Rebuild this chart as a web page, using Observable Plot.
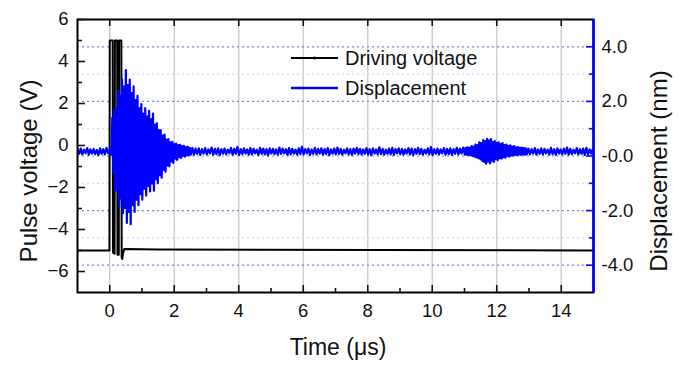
<!DOCTYPE html>
<html>
<head>
<meta charset="utf-8">
<script src="https://cdn.jsdelivr.net/npm/d3@7"></script>
<script src="https://cdn.jsdelivr.net/npm/@observablehq/plot@0.6"></script>
<style>
  html, body { margin: 0; padding: 0; background: #fff; }
  #chart svg { display: block; font-family: Arial, "Liberation Sans", sans-serif; }
</style>
</head>
<body>
<div id="chart"></div>
<script>
// ---- Axes -----------------------------------------------------------------
const timeDomain = [-1, 15];            // µs
const voltDomain = [-7, 6];             // V (left axis)
const nmDomain = [-5, 5];               // nm (right axis)
const xMajorTicks = [0, 2, 4, 6, 8, 10, 12, 14];
const xMinorTicks = [1, 3, 5, 7, 9, 11, 13];
const voltMajorTicks = [-6, -4, -2, 0, 2, 4, 6];
const voltMinorTicks = [-5, -3, -1, 1, 3, 5];
const nmMajorTicks = [-4, -2, 0, 2, 4];
const nmMajorLabels = ["-4.0", "-2.0", "-0.0", "2.0", "4.0"];
const nmMinorTicks = [-3, -1, 1, 3];

// ---- Driving voltage: pulse burst on a -5 V baseline ----------------------
const driveTime = [-1, -0.01, 0.0, 0.09, 0.10, 0.15, 0.16, 0.23, 0.24, 0.28, 0.29, 0.36, 0.37, 0.39, 0.41, 0.45, 1.5, 15];
const driveVolt = [-5.0, -5.0, 5.0, 5.0, -5.1, -5.15, 5.0, 5.0, -5.2, -5.2, 5.0, 5.0, -5.35, -5.4, -5.15, -4.93, -4.95, -5.0];

// ---- Displacement (nm), sampled in consecutive segments -------------------
const dispStart = -1;
const quietStep = 0.05;   // µs between samples on the quiet baseline
const burstStep = 0.03;   // µs between samples inside the ringing bursts

const dispBeforePulse = [0.25,0.08,0.27,0.06,0.23,0.10,0.29,0.05,0.24,0.09,0.26,0.07,0.22,0.04,0.28,0.08,0.25,0.06,0.30,0.10,0.24,0.05];

// main ringing after the drive pulse (peak / trough pairs)
const dispRinging = [
  1.40,-0.60, 1.70,-1.30, 1.75,-1.20, 2.40,-1.85, 2.20,-1.55,
  2.80,-2.10, 2.55,-1.90, 3.15,-2.45, 2.60,-2.05, 2.80,-2.50,
  2.30,-1.80, 2.55,-2.05, 2.05,-1.60, 2.20,-1.80, 1.75,-1.40,
  1.90,-1.60, 1.55,-1.20, 1.75,-1.45, 1.45,-1.10, 1.65,-1.30,
  1.35,-1.00, 1.55,-1.27, 1.15,-0.85, 1.20,-1.00, 0.95,-0.70,
  0.95,-0.80, 0.75,-0.50, 0.78,-0.58, 0.60,-0.35, 0.62,-0.38,
  0.50,-0.20, 0.52,-0.25, 0.44,-0.10, 0.45,-0.14, 0.40,-0.04,
  0.41,-0.07, 0.36, 0.00, 0.37,-0.02, 0.33, 0.03, 0.34, 0.02,
  0.30, 0.05
];

const dispQuiet = [
  0.30,0.05,0.27,0.08,0.28,0.04,0.25,0.09,0.29,0.06,
  0.24,0.10,0.31,0.05,0.26,0.07,0.28,0.03,0.25,0.09,
  0.27,0.06,0.23,0.10,0.30,0.05,0.26,0.08,0.33,0.04,
  0.25,0.07,0.28,0.09,0.24,0.05,0.29,0.06,0.26,0.10,
  0.23,0.04,0.30,0.08,0.27,0.06,0.25,0.02,0.28,0.09,
  0.26,0.07,0.24,0.05,0.31,0.08,0.27,0.10,0.25,0.04,
  0.29,0.06,0.26,0.09,0.23,0.05,0.28,0.07,0.34,0.06,
  0.25,0.10,0.27,0.04,0.24,0.08,0.30,0.06,0.26,0.09,
  0.28,0.05,0.25,0.07,0.29,0.03,0.24,0.09,0.27,0.06,
  0.31,0.08,0.26,0.05,0.23,0.10,0.28,0.06,0.25,0.04,
  0.27,0.09,0.30,0.07,0.26,0.05,0.24,0.08,0.29,0.06,
  0.25,0.03,0.28,0.09,0.24,0.06,0.32,0.07,0.26,0.05,
  0.23,0.08,0.27,0.06,0.30,0.04,0.25,0.10,0.28,0.07,
  0.26,0.05,0.24,0.09,0.29,0.06,0.27,0.03,0.25,0.08,
  0.30,0.07,0.26,0.05,0.23,0.09,0.28,0.06,0.33,0.04,
  0.25,0.08,0.27,0.06,0.24,0.10,0.29,0.05,0.26,0.07,
  0.28,0.04,0.25,0.08,0.30,0.06,0.27,0.09,0.31,0.05
];

// late echo around 11–13 µs
const dispEcho = [
  0.30,0.05, 0.32,0.03, 0.31,0.02, 0.36,0.00, 0.34,-0.02,
  0.42,-0.05, 0.40,-0.08, 0.50,-0.12, 0.47,-0.18, 0.58,-0.22,
  0.55,-0.28, 0.63,-0.20, 0.57,-0.27, 0.62,-0.18, 0.52,-0.22,
  0.55,-0.12, 0.48,-0.15, 0.50,-0.08, 0.44,-0.10, 0.47,-0.04,
  0.40,-0.06, 0.42,0.00, 0.37,-0.02, 0.39,0.02, 0.34,0.01,
  0.36,0.04, 0.32,0.03, 0.33,0.05, 0.30,0.04, 0.31,0.06,
  0.29,0.05, 0.28,0.06
];

const dispAfterEcho = [
  0.27,0.06,0.25,0.09,0.29,0.05,0.24,0.08,0.28,0.06,
  0.26,0.10,0.23,0.05,0.30,0.07,0.25,0.04,0.28,0.09,
  0.24,0.06,0.27,0.08,0.31,0.05,0.26,0.07,0.23,0.10,
  0.29,0.06,0.25,0.08,0.27,0.04,0.30,0.07,0.24,0.09,0.26,0.06
];

// ---- Build tables ---------------------------------------------------------
const drive = driveTime.map((t, i) => ({t, v: driveVolt[i]}));

const segments = [
  {step: quietStep, values: dispBeforePulse},
  {step: burstStep, values: dispRinging},
  {step: quietStep, values: dispQuiet},
  {step: burstStep, values: dispEcho},
  {step: quietStep, values: dispAfterEcho}
];
const displacement = [];
{
  let t = dispStart;
  segments.forEach((seg, k) => {
    seg.values.forEach((nm, i) => {
      if (k > 0 || i > 0) t += seg.step;
      displacement.push({t, nm});
    });
  });
}

// Right-axis values are drawn on the left-axis scale through this mapping
const nmToVolt = d3.scaleLinear(nmDomain, voltDomain);
const nmLabel = new Map(nmMajorTicks.map((d, i) => [nmToVolt(d), nmMajorLabels[i]]));

const BLUE = "#0000ff";
const INK = "#111";
const W = 685, H = 368;
const M = {top: 19, right: 92, bottom: 76, left: 77};
const font = "Arial, 'Liberation Sans', sans-serif";
const tickFont = 18.5;

const chart = Plot.plot({
  width: W,
  height: H,
  marginTop: M.top,
  marginRight: M.right,
  marginBottom: M.bottom,
  marginLeft: M.left,
  style: {fontFamily: font, background: "#fff", color: INK},
  x: {domain: timeDomain, label: null},
  y: {domain: voltDomain, label: null},
  marks: [
    // grid
    Plot.ruleX(xMajorTicks, {stroke: "#cfcfcf", strokeWidth: 1.5}),
    Plot.ruleY(nmMinorTicks.map(nmToVolt), {stroke: "#d6d6ff", strokeWidth: 1.2, strokeDasharray: "2,3"}),
    Plot.ruleY(nmMajorTicks.map(nmToVolt), {stroke: "#7c7cff", strokeWidth: 1.2, strokeDasharray: "2,3"}),

    // series
    Plot.line(drive, {x: "t", y: "v", stroke: "#000", strokeWidth: 2, clip: true}),
    Plot.line(displacement, {x: "t", y: (d) => nmToVolt(d.nm), stroke: BLUE, strokeWidth: 2.2, clip: true}),

    // frame
    Plot.frame({stroke: "#000", strokeWidth: 2}),
    Plot.ruleX([timeDomain[1]], {stroke: BLUE, strokeWidth: 2.5}),

    // bottom / top ticks (inward)
    Plot.axisX(xMajorTicks, {anchor: "bottom", tickSize: -7, tickPadding: 18, fontSize: tickFont, fill: INK, strokeWidth: 1.6, label: null}),
    Plot.axisX(xMinorTicks, {anchor: "bottom", tickSize: -4, tickFormat: () => "", strokeWidth: 1.6, label: null}),
    Plot.axisX(xMajorTicks, {anchor: "top", tickSize: -6, tickFormat: () => "", strokeWidth: 1.6, label: null}),

    // left axis
    Plot.axisY(voltMajorTicks, {anchor: "left", tickSize: -8, tickPadding: 17, fontSize: tickFont, fill: INK, strokeWidth: 1.6, label: null}),
    Plot.axisY(voltMinorTicks, {anchor: "left", tickSize: -5, tickFormat: () => "", strokeWidth: 1.6, label: null}),

    // right axis (displacement, blue ticks)
    Plot.axisY(nmMajorTicks.map(nmToVolt), {anchor: "right", tickSize: -8, tickFormat: () => "", stroke: BLUE, strokeWidth: 1.6, label: null}),
    Plot.axisY(nmMinorTicks.map(nmToVolt), {anchor: "right", tickSize: -5, tickFormat: () => "", stroke: BLUE, strokeWidth: 1.6, label: null}),
    Plot.axisY(nmMajorTicks.map(nmToVolt), {anchor: "right", tickSize: 0, tickPadding: 8, fontSize: tickFont, fill: INK, tickFormat: (d) => nmLabel.get(d), label: null})
  ]
});

document.getElementById("chart").appendChild(chart);

// ---- Axis titles and legend ------------------------------------------------
const svg = d3.select(chart);

function title(text, x, y, rotate, size) {
  svg.append("text")
    .attr("transform", `translate(${x},${y})` + (rotate ? ` rotate(${rotate})` : ""))
    .attr("text-anchor", "middle").attr("dominant-baseline", "central")
    .attr("font-family", font).attr("font-size", size).attr("fill", INK)
    .text(text);
}
title("Pulse voltage (V)", 28, 171, -90, 24);
title("Displacement (nm)", 658, 171, -90, 24);
title("Time (μs)", 338, 347, 0, 23);

const legendItems = [
  {label: "Driving voltage", color: "#000", width: 1.8, dot: true},
  {label: "Displacement", color: BLUE, width: 2.5, dot: false}
];
const legend = svg.append("g").attr("transform", "translate(291,58)");
legendItems.forEach((item, i) => {
  const g = legend.append("g").attr("transform", `translate(0,${i * 30})`);
  g.append("line").attr("x1", 0).attr("x2", 47).attr("y1", 0).attr("y2", 0)
    .attr("stroke", item.color).attr("stroke-width", item.width);
  if (item.dot) g.append("circle").attr("cx", 23.5).attr("cy", 0).attr("r", 1.6).attr("fill", item.color);
  g.append("text").attr("x", 54).attr("y", 0)
    .attr("text-anchor", "start")
    .attr("dominant-baseline", "central")
    .attr("font-family", font).attr("font-size", 20).attr("fill", INK)
    .text(item.label);
});
</script>
</body>
</html>
